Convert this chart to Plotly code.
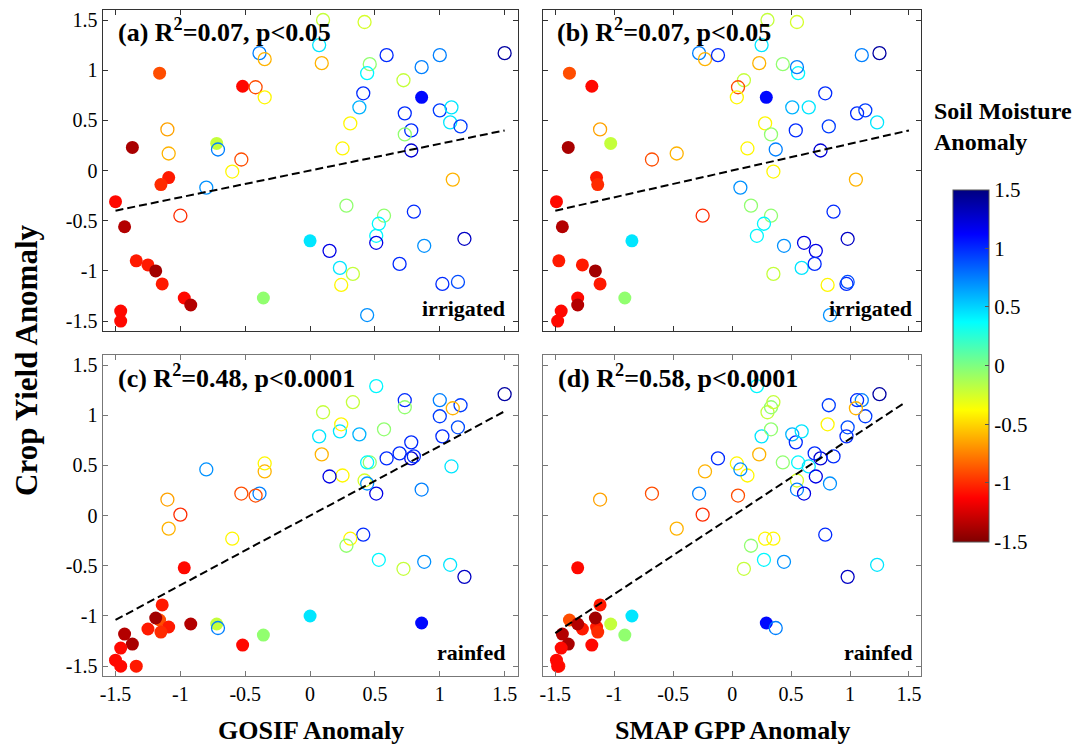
import plotly.graph_objects as go

# ---------------- data ----------------
# filled points
f_gosif = [-1.16, -0.52, -1.37, -0.72, -1.09, -1.15, -1.50, -1.43, -1.34, -1.25, -1.19, -1.14, -0.97, -0.92, -1.46, -1.46, 0.00, -0.36, 0.86]
f_smap = [-1.38, -1.19, -1.39, -1.03, -1.15, -1.14, -1.49, -1.44, -1.47, -1.27, -1.16, -1.12, -1.31, -1.31, -1.45, -1.48, -0.85, -0.91, 0.29]
f_sm = [-0.9, -1.1, -1.38, -0.2, -1.05, -1.0, -1.1, -1.35, -1.05, -1.05, -1.4, -1.05, -1.1, -1.35, -1.1, -1.1, 0.45, -0.05, 1.1]
f_irr = [0.97, 0.84, 0.23, 0.27, -0.07, -0.14, -0.31, -0.56, -0.90, -0.94, -1.00, -1.13, -1.27, -1.34, -1.40, -1.50, -0.70, -1.27, 0.73]
f_rain = [-1.04, -1.29, -1.28, -1.08, -1.11, -1.16, -1.44, -1.18, -1.50, -1.13, -1.02, -0.89, -0.52, -1.08, -1.32, -1.50, -1.00, -1.19, -1.07]

# open circles
o_gosif = [0.10, 0.42, -0.39, -0.35, 0.07, 0.09, 0.59, 1.00, 1.50, 0.46, 0.44, 0.86, 0.72, -0.42, -0.35, 0.41, 0.38,
           0.73, 1.00, 1.09, 1.08, 1.16, 0.31, 0.78, 0.73, 0.78, -1.10, -1.09, -0.71, 0.25, -0.53, -0.60, -0.80, 1.10,
           -1.00, 0.28, 0.57, 0.53, 0.51, 0.51, 0.80, 1.19, 0.88, 0.15, 0.23, 0.33, 0.24, 0.69, 1.02, 1.14, 0.44]
o_smap = [0.30, 0.55, -0.28, -0.23, 0.25, 0.23, -0.12, 1.10, 1.25, 0.43, 0.56, 0.55, 0.10, 0.05, 0.04, 0.79, 0.51,
          1.06, 1.13, 0.65, 1.23, 0.82, 0.28, 0.54, 0.33, 0.75, -1.12, -0.47, 0.37, 0.13, -0.68, 0.35, 0.07, 1.05,
          -0.25, 0.16, 0.33, 0.27, 0.21, 0.61, 0.86, 0.98, 0.44, 0.71, 0.59, 0.35, 0.81, 0.70, 0.97, 0.98, 0.83]
o_sm = [-0.2, -0.25, 0.75, -0.6, 0.45, -0.6, 1.0, 0.75, 1.4, -0.05, 0.4, 0.75, -0.2, -0.9, -0.4, 1.0, 0.6,
        1.0, 0.95, 0.45, 0.45, 0.95, -0.4, 1.0, -0.05, 1.25, -0.65, -0.6, 0.75, -0.4, -0.9, -0.4, 0.7, -0.6,
        -1.0, -0.05, -0.05, 0.4, 0.4, 1.2, 1.0, 1.3, 0.7, 1.2, 0.45, -0.2, -0.4, 1.0, 1.0, 0.9, 0.7]
o_irr = [1.50, 1.48, 1.17, 1.11, 1.25, 1.07, 1.15, 1.15, 1.17, 1.06, 0.97, 1.03, 0.90, 0.83, 0.73, 0.77, 0.63,
         0.57, 0.60, 0.63, 0.48, 0.44, 0.47, 0.40, 0.36, 0.20, 0.41, 0.17, 0.21, 0.22, 0.11, -0.01, -0.17, -0.09,
         -0.45, -0.35, -0.45, -0.53, -0.65, -0.72, -0.41, -0.68, -0.75, -0.80, -0.97, -1.03, -1.14, -0.93, -1.13, -1.11, -1.44]
o_rain = [1.03, 0.35, 0.22, 0.44, 0.79, 0.61, 0.57, 1.15, 1.21, 0.53, 0.53, 0.26, -0.53, 0.20, 0.52, -0.19, 0.81,
          1.15, 0.99, 0.49, -0.49, 1.10, -0.23, 0.73, 1.08, 0.57, 0.16, -0.13, -1.12, 0.40, 0.22, -0.23, 0.46, 1.07,
          0.01, -0.30, 0.86, -0.44, 1.29, 0.22, 0.59, -0.61, -0.46, 0.39, 0.84, 1.13, 0.91, 0.62, 0.79, 0.88, 0.32]

# fitted regression lines (end points)
fit_x_a = [-1.5, 1.5]; fit_y_a = [-0.40, 0.40]
fit_x_b = [-1.5, 1.5]; fit_y_b = [-0.40, 0.40]
fit_x_c = [-1.5, 1.5]; fit_y_c = [-1.04, 1.04]
fit_x_d = [-1.5, 1.47]; fit_y_d = [-1.17, 1.13]

tick_vals = [-1.5, -1, -0.5, 0, 0.5, 1, 1.5]
tick_text = ["-1.5", "-1", "-0.5", "0", "0.5", "1", "1.5"]

panel_titles = ["(a) R<sup>2</sup>=0.07, p<0.05", "(b) R<sup>2</sup>=0.07, p<0.05",
                "(c) R<sup>2</sup>=0.48, p<0.0001", "(d) R<sup>2</sup>=0.58, p<0.0001"]
panel_tags = ["irrigated", "irrigated", "rainfed", "rainfed"]

# ---------------- figure ----------------
W, H = 1083, 749
FONT = "Liberation Serif"
jet_r = [[0, "rgb(128,0,0)"], [0.125, "rgb(255,0,0)"], [0.375, "rgb(255,255,0)"],
         [0.625, "rgb(0,255,255)"], [0.875, "rgb(0,0,255)"], [1, "rgb(0,0,128)"]]

fig = go.Figure()

panels = [
    ("x", "y", f_gosif, o_gosif, f_irr, o_irr, fit_x_a, fit_y_a),
    ("x2", "y2", f_smap, o_smap, f_irr, o_irr, fit_x_b, fit_y_b),
    ("x3", "y3", f_gosif, o_gosif, f_rain, o_rain, fit_x_c, fit_y_c),
    ("x4", "y4", f_smap, o_smap, f_rain, o_rain, fit_x_d, fit_y_d),
]
for xa, ya, fx, ox, fy, oy, lx, ly in panels:
    fig.add_trace(go.Scatter(x=fx, y=fy, xaxis=xa, yaxis=ya, mode="markers", showlegend=False,
                             marker=dict(symbol="circle", size=13, color=f_sm, coloraxis="coloraxis",
                                         line=dict(width=0))))
    fig.add_trace(go.Scatter(x=ox, y=oy, xaxis=xa, yaxis=ya, mode="markers", showlegend=False,
                             marker=dict(symbol="circle-open", size=13, color=o_sm, coloraxis="coloraxis",
                                         line=dict(width=1.3))))
    fig.add_trace(go.Scatter(x=lx, y=ly, xaxis=xa, yaxis=ya, mode="lines", showlegend=False,
                             line=dict(color="black", width=2, dash="8px,4px")))

xd_left = [99 / W, 516 / W]
xd_right = [542 / W, 921 / W]
yd_top = [1 - 331 / H, 1 - 9 / H]
yd_bot = [1 - 677 / H, 1 - 355 / H]

def ax(domain, anchor, labels, color):
    return dict(domain=domain, anchor=anchor, range=[-1.6, 1.6], tickvals=tick_vals, ticktext=tick_text,
                showticklabels=labels, ticks="inside", ticklen=5, tickcolor=color, mirror="allticks",
                showline=True, linecolor=color, linewidth=1, showgrid=False, zeroline=False,
                tickfont=dict(family=FONT, size=20, color="black"))

fig.update_layout(
    width=W, height=H, margin=dict(l=0, r=0, t=0, b=0),
    paper_bgcolor="white", plot_bgcolor="white",
    xaxis=ax(xd_left, "y", False, "#333"), yaxis=ax(yd_top, "x", True, "#333"),
    xaxis2=ax(xd_right, "y2", False, "#333"), yaxis2=ax(yd_top, "x2", False, "#333"),
    xaxis3=ax(xd_left, "y3", True, "#777"), yaxis3=ax(yd_bot, "x3", True, "#777"),
    xaxis4=ax(xd_right, "y4", True, "#777"), yaxis4=ax(yd_bot, "x4", False, "#777"),
    coloraxis=dict(colorscale=jet_r, cmin=-1.5, cmax=1.5,
                   colorbar=dict(x=953 / W, xanchor="left", y=1 - 365.5 / H, yanchor="middle",
                                 len=353 / H, lenmode="fraction", thickness=36, thicknessmode="pixels",
                                 xpad=0, ypad=0, outlinewidth=1, outlinecolor="#555",
                                 tickvals=tick_vals, ticktext=tick_text, ticks="inside", ticklen=4,
                                 tickcolor="#555", tickfont=dict(family=FONT, size=21, color="black"))),
)

ann = []
title_pos = [(113, 30), (554, 30), (113, 377), (555, 377)]
tag_pos = [(505, 308), (914, 308), (505, 653), (914, 653)]
for t, (px, py) in zip(panel_titles, title_pos):
    ann.append(dict(text="<b>" + t + "</b>", x=px / W, y=1 - py / H, xref="paper", yref="paper",
                    xanchor="left", yanchor="middle", showarrow=False,
                    font=dict(family=FONT, size=26, color="black")))
for t, (px, py) in zip(panel_tags, tag_pos):
    ann.append(dict(text="<b>" + t + "</b>", x=px / W, y=1 - py / H, xref="paper", yref="paper",
                    xanchor="right", yanchor="middle", showarrow=False,
                    font=dict(family=FONT, size=22, color="black")))
ann.append(dict(text="<b>GOSIF Anomaly</b>", x=308 / W, y=1 - 731 / H, xref="paper", yref="paper",
                xanchor="center", yanchor="middle", showarrow=False, font=dict(family=FONT, size=26, color="black")))
ann.append(dict(text="<b>SMAP GPP Anomaly</b>", x=732 / W, y=1 - 731 / H, xref="paper", yref="paper",
                xanchor="center", yanchor="middle", showarrow=False, font=dict(family=FONT, size=26, color="black")))
ann.append(dict(text="<b>Crop Yield Anomaly</b>", x=22 / W, y=1 - 360 / H, xref="paper", yref="paper",
                xanchor="center", yanchor="middle", textangle=-90, showarrow=False,
                font=dict(family=FONT, size=31, color="black")))
ann.append(dict(text="<b>Soil Moisture<br>Anomaly</b>", x=932 / W, y=1 - 126 / H, xref="paper", yref="paper",
                xanchor="left", yanchor="middle", align="left", showarrow=False,
                font=dict(family=FONT, size=24, color="black")))
fig.update_layout(annotations=ann)

fig.write_html("out.html")
